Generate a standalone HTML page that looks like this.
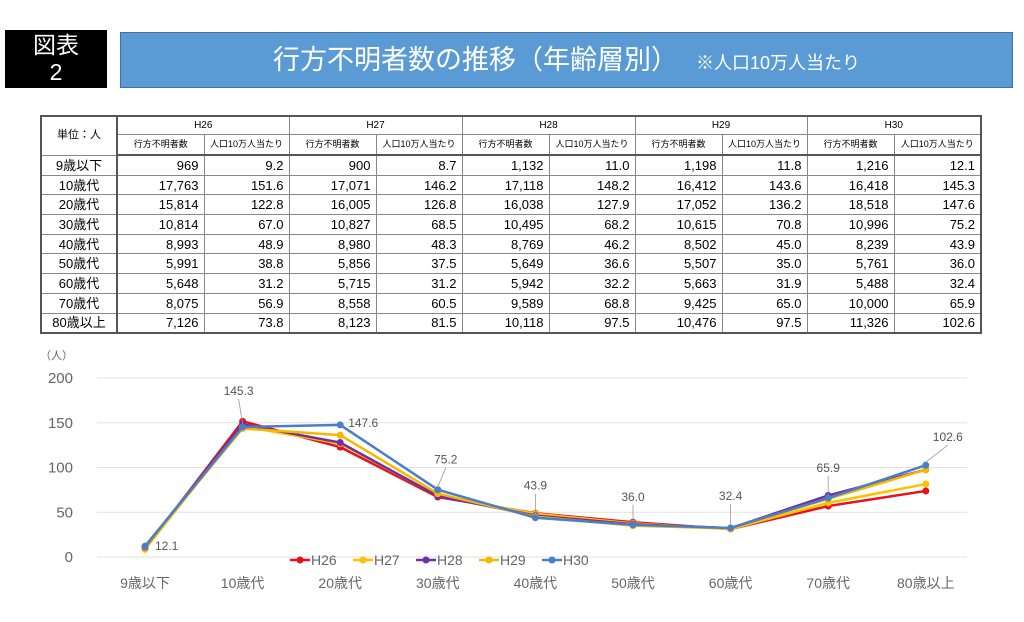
<!DOCTYPE html>
<html><head><meta charset="utf-8">
<style>
body{margin:0;width:1024px;height:622px;background:#fff;position:relative;overflow:hidden;font-family:"Liberation Sans","Noto Sans CJK JP",sans-serif;}
#badge{position:absolute;left:5px;top:30px;width:102px;height:58px;background:#000;color:#fff;text-align:center;font-size:23px;line-height:27px;padding-top:2px;box-sizing:border-box;}
#title{position:absolute;left:120px;top:32px;width:893px;height:56px;background:#5b9bd5;border:1px solid #41719c;box-sizing:border-box;color:#fff;text-align:center;line-height:54px;font-size:27px;}
#title small{font-size:18px;margin-left:18px;}
table{position:absolute;left:40px;top:115px;border-collapse:collapse;table-layout:fixed;border:2px solid #555;font-size:13px;}
td{border:1px solid #888;padding:0 5px;height:18.7px;line-height:17px;text-align:right;}
td.l{text-align:center;border-right:2px solid #555;}
td.h{text-align:center;font-size:10px;height:17px;}
tr.sub td{height:19px;font-size:9px;text-align:center;border-bottom:2px solid #555;}
#chart{position:absolute;left:0;top:340px;}
</style></head><body>
<div id="badge">図表<br>2</div>
<div id="title">行方不明者数の推移（年齢層別）<small>※人口10万人当たり</small></div>
<table>
<colgroup><col style="width:76px"><col style="width:87px"><col style="width:85px"><col style="width:87px"><col style="width:86px"><col style="width:87px"><col style="width:86px"><col style="width:87px"><col style="width:85px"><col style="width:87px"><col style="width:87px"></colgroup>
<tr><td class="l h" rowspan="2" style="font-size:11px">単位：人</td><td class="h" colspan="2">H26</td><td class="h" colspan="2">H27</td><td class="h" colspan="2">H28</td><td class="h" colspan="2">H29</td><td class="h" colspan="2">H30</td></tr>
<tr class="sub"><td>行方不明者数</td><td>人口10万人当たり</td><td>行方不明者数</td><td>人口10万人当たり</td><td>行方不明者数</td><td>人口10万人当たり</td><td>行方不明者数</td><td>人口10万人当たり</td><td>行方不明者数</td><td>人口10万人当たり</td></tr>
<tr><td class="l">9歳以下</td><td>969</td><td>9.2</td><td>900</td><td>8.7</td><td>1,132</td><td>11.0</td><td>1,198</td><td>11.8</td><td>1,216</td><td>12.1</td></tr>
<tr><td class="l">10歳代</td><td>17,763</td><td>151.6</td><td>17,071</td><td>146.2</td><td>17,118</td><td>148.2</td><td>16,412</td><td>143.6</td><td>16,418</td><td>145.3</td></tr>
<tr><td class="l">20歳代</td><td>15,814</td><td>122.8</td><td>16,005</td><td>126.8</td><td>16,038</td><td>127.9</td><td>17,052</td><td>136.2</td><td>18,518</td><td>147.6</td></tr>
<tr><td class="l">30歳代</td><td>10,814</td><td>67.0</td><td>10,827</td><td>68.5</td><td>10,495</td><td>68.2</td><td>10,615</td><td>70.8</td><td>10,996</td><td>75.2</td></tr>
<tr><td class="l">40歳代</td><td>8,993</td><td>48.9</td><td>8,980</td><td>48.3</td><td>8,769</td><td>46.2</td><td>8,502</td><td>45.0</td><td>8,239</td><td>43.9</td></tr>
<tr><td class="l">50歳代</td><td>5,991</td><td>38.8</td><td>5,856</td><td>37.5</td><td>5,649</td><td>36.6</td><td>5,507</td><td>35.0</td><td>5,761</td><td>36.0</td></tr>
<tr><td class="l">60歳代</td><td>5,648</td><td>31.2</td><td>5,715</td><td>31.2</td><td>5,942</td><td>32.2</td><td>5,663</td><td>31.9</td><td>5,488</td><td>32.4</td></tr>
<tr><td class="l">70歳代</td><td>8,075</td><td>56.9</td><td>8,558</td><td>60.5</td><td>9,589</td><td>68.8</td><td>9,425</td><td>65.0</td><td>10,000</td><td>65.9</td></tr>
<tr><td class="l">80歳以上</td><td>7,126</td><td>73.8</td><td>8,123</td><td>81.5</td><td>10,118</td><td>97.5</td><td>10,476</td><td>97.5</td><td>11,326</td><td>102.6</td></tr>
</table>
<svg id="chart" width="1024" height="282"></svg>
<script>
const categories=["9歳以下","10歳代","20歳代","30歳代","40歳代","50歳代","60歳代","70歳代","80歳以上"];
const seriesNames=["H26","H27","H28","H29","H30"];
const h26=[9.2,151.6,122.8,67.0,48.9,38.8,31.2,56.9,73.8];
const h27=[8.7,146.2,126.8,68.5,48.3,37.5,31.2,60.5,81.5];
const h28=[11.0,148.2,127.9,68.2,46.2,36.6,32.2,68.8,97.5];
const h29=[11.8,143.6,136.2,70.8,45.0,35.0,31.9,65.0,97.5];
const h30=[12.1,145.3,147.6,75.2,43.9,36.0,32.4,65.9,102.6];
const yTicks=[0,50,100,150,200];
const seriesColors=["#e8101a","#ffc000","#7030a0","#f5b800","#4a7ec8"];
const NS="http://www.w3.org/2000/svg";
const svg=document.getElementById('chart');
const Y0=217,Y1=38,YMAX=200,X0=145,XS=97.6;
const x=i=>X0+i*XS;
const y=v=>Y0-(v/YMAX)*(Y0-Y1);
function mk(t,a,p){const e=document.createElementNS(NS,t);for(const k in a)e.setAttribute(k,a[k]);(p||svg).appendChild(e);return e;}
let t=mk('text',{x:40,y:19,'font-size':11,fill:'#666'});t.textContent='（人）';

yTicks.forEach(v=>{
  const g=mk('line',{x1:97,x2:967,y1:y(v),y2:y(v),stroke:'#e2e2e2','stroke-width':1});
  
  const l=mk('text',{x:73,y:y(v)+5,'font-size':15,fill:'#666','text-anchor':'end'});l.textContent=v;
  
});
categories.forEach((c,i)=>{
  const l=mk('text',{x:x(i),y:248,'font-size':14,fill:'#666','text-anchor':'middle'});l.textContent=c;
  
});
const all=[h26,h27,h28,h29,h30];
all.forEach((d,s)=>{
  const g=mk('g',{});
  
  mk('polyline',{points:d.map((v,i)=>x(i)+','+y(v)).join(' '),fill:'none',stroke:seriesColors[s],'stroke-width':2.5},g);
  d.forEach((v,i)=>{const c=mk('circle',{cx:x(i),cy:y(v),r:3.5,fill:seriesColors[s]},g);
    });
});
const lblOff=[[10,4,'start',0],[-4,-32,'middle',1],[8,2,'start',0],[8,-26,'middle',1],[0,-28,'middle',1],[0,-24,'middle',1],[0,-28,'middle',1],[0,-26,'middle',1],[22,-24,'middle',1]];
h30.forEach((v,i)=>{
  const o=lblOff[i];const px=x(i),py=y(v);
  if(o[3])mk('line',{x1:px,y1:py-3,x2:px+o[0],y2:py+o[1]+4,stroke:'#999','stroke-width':0.8});
  const l=mk('text',{x:px+o[0],y:py+o[1],'font-size':12,fill:'#555','text-anchor':o[2]});l.textContent=v.toFixed(1);
  
});
seriesNames.forEach((n,s)=>{
  const lx=290+s*63,ly=220;
  const g=mk('g',{});
  
  mk('line',{x1:lx,x2:lx+20,y1:ly,y2:ly,stroke:seriesColors[s],'stroke-width':2.5},g);
  mk('circle',{cx:lx+10,cy:ly,r:3.5,fill:seriesColors[s]},g);
  const l=mk('text',{x:lx+21,y:ly+5,'font-size':14,fill:'#666'},g);l.textContent=n;
});
</script>
</body></html>
